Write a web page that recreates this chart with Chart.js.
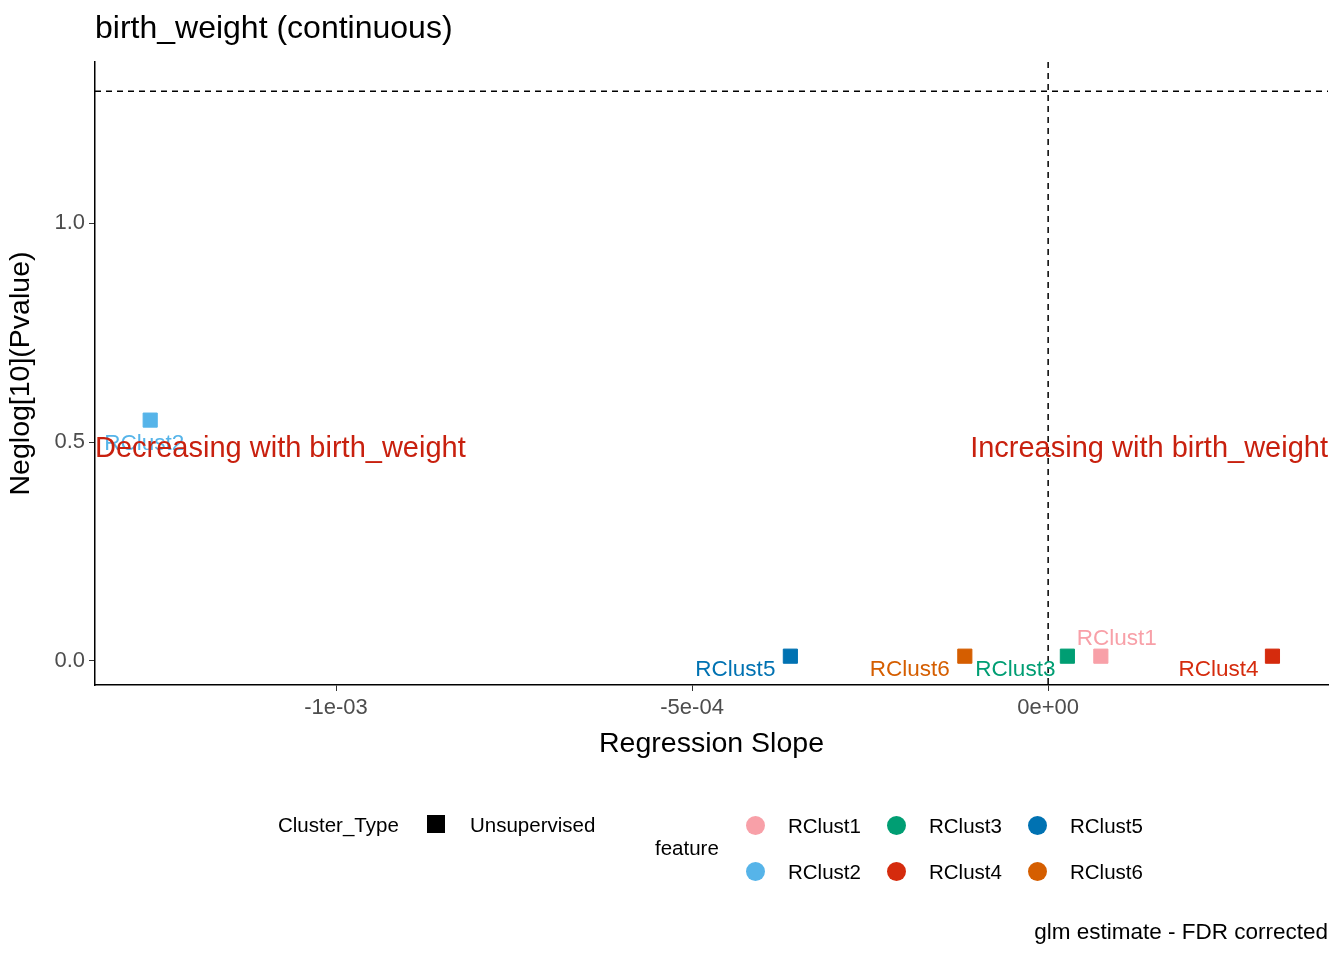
<!DOCTYPE html>
<html><head><meta charset="utf-8">
<script src="https://cdn.jsdelivr.net/npm/chart.js@4.4.1/dist/chart.umd.min.js"></script>
<style>
body{margin:0;background:#fff;font-family:Arial,"Liberation Sans",sans-serif;}
#wrap{position:relative;width:1344px;height:960px;}
.t{position:absolute;white-space:nowrap;color:#000;}
.sq{position:absolute;width:18px;height:18px;background:#000;}
.dot{position:absolute;width:19px;height:19px;border-radius:50%;}
</style></head><body>
<div id="wrap">
<canvas id="c" width="1344" height="960"></canvas>
<div class="t" style="left:95px;top:9px;font-size:32px;">birth_weight (continuous)</div>
<div class="t" style="left:278px;top:813px;font-size:20.5px;">Cluster_Type</div>
<div class="sq" style="left:427px;top:815px;"></div>
<div class="t" style="left:470px;top:813px;font-size:20.5px;">Unsupervised</div>
<div class="t" style="left:655px;top:836px;font-size:20.5px;">feature</div>
<div id="leg"></div>
<div class="t" style="right:16px;top:919px;font-size:22.5px;">glm estimate - FDR corrected</div>
</div>
<script>
// ---- Data ----
const features = ['RClust1', 'RClust2', 'RClust3', 'RClust4', 'RClust5', 'RClust6'];
const slopes   = [7.4e-5, -1.261e-3, 2.7e-5, 3.15e-4, -3.62e-4, -1.17e-4];
const neglogP  = [0.011, 0.550, 0.011, 0.011, 0.011, 0.011];
const colors   = ['#F8A0A8', '#56B4E9', '#009E73', '#D52B0D', '#0072B2', '#D55E00'];
const xTicks   = [-1e-3, -5e-4, 0];
const xTickLabels = ['-1e-03', '-5e-04', '0e+00'];
const yTicks   = [0, 0.5, 1.0];
const sigLine  = 1.30103;

// label offsets in px from point (text anchor = left/baseline)
const labelOffsets = [[-24, -11], [-46, 30], [-92, 20], [-94, 20], [-95, 20], [-95, 20]];

// ---- Legend (HTML) ----
const leg = document.getElementById('leg');
const legPos = [[746, 816], [746, 862], [887, 816], [887, 862], [1028, 816], [1028, 862]];
features.forEach(function (f, i) {
  leg.innerHTML += '<div class="dot" style="left:' + legPos[i][0] + 'px;top:' + legPos[i][1] + 'px;background:' + colors[i] + '"></div>' +
    '<div class="t" style="left:' + (legPos[i][0] + 42) + 'px;top:' + (legPos[i][1] - 2) + 'px;font-size:20.5px;">' + f + '</div>';
});

// ---- Overlay plugin: dashed lines, point labels, annotations ----
const overlay = {
  id: 'overlay',
  afterDatasetsDraw: function (chart) {
    const c = chart.ctx, xs = chart.scales.x, ys = chart.scales.y, a = chart.chartArea;
    c.save();
    c.strokeStyle = '#000'; c.lineWidth = 1.5; c.setLineDash([6, 5]);
    const x0 = xs.getPixelForValue(0), y0 = ys.getPixelForValue(sigLine);
    c.beginPath(); c.moveTo(x0, a.top); c.lineTo(x0, a.bottom); c.stroke();
    c.beginPath(); c.moveTo(a.left, y0); c.lineTo(a.right, y0); c.stroke();
    c.setLineDash([]);
    c.font = '22.5px Arial, "Liberation Sans"'; c.textBaseline = 'alphabetic';
    features.forEach(function (f, i) {
      const px = xs.getPixelForValue(slopes[i]), py = ys.getPixelForValue(neglogP[i]);
      c.fillStyle = colors[i];
      c.fillText(f, px + labelOffsets[i][0], py + labelOffsets[i][1]);
    });
    c.font = '29px Arial, "Liberation Sans"'; c.fillStyle = '#C8200E';
    const ya = ys.getPixelForValue(0.5) + 15;
    c.textAlign = 'left'; c.fillText('Decreasing with birth_weight', a.left, ya);
    c.textAlign = 'right'; c.fillText('Increasing with birth_weight', a.right, ya);
    c.restore();
  }
};

new Chart(document.getElementById('c'), {
  type: 'scatter',
  data: {
    datasets: features.map(function (f, i) {
      return {
        label: f,
        data: [{ x: slopes[i], y: neglogP[i] }],
        backgroundColor: colors[i], borderColor: colors[i],
        pointStyle: 'rect', pointRadius: 10, pointHoverRadius: 10
      };
    })
  },
  options: {
    responsive: false, animation: false,
    layout: { padding: { left: 0, right: 16, top: 62, bottom: 195 } },
    plugins: { legend: { display: false }, tooltip: { enabled: false } },
    scales: {
      x: {
        type: 'linear', min: -1.3385e-3, max: 3.93e-4,
        afterBuildTicks: function (s) { s.ticks = xTicks.map(function (v) { return { value: v }; }); },
        afterFit: function (s) { s.height = 80; },
        ticks: { color: '#4d4d4d', font: { size: 22 }, padding: 4,
          callback: function (v) { const k = xTicks.indexOf(v); return k >= 0 ? xTickLabels[k] : ''; } },
        grid: { drawOnChartArea: false, tickLength: 6, color: '#333' },
        border: { color: '#000', width: 1.5 },
        title: { display: true, text: 'Regression Slope', color: '#000', font: { size: 28.5 }, padding: { top: 2 } }
      },
      y: {
        type: 'linear', min: -0.0548, max: 1.3676,
        afterBuildTicks: function (s) { s.ticks = yTicks.map(function (v) { return { value: v }; }); },
        afterFit: function (s) { s.width = 95; },
        ticks: { color: '#4d4d4d', font: { size: 22 }, padding: 4,
          callback: function (v) { return v.toFixed(1); } },
        grid: { drawOnChartArea: false, tickLength: 6, color: '#333' },
        border: { color: '#000', width: 1.5 },
        title: { display: true, text: 'Neglog[10](Pvalue)', color: '#000', font: { size: 28.5 }, padding: { bottom: 2 } }
      }
    }
  },
  plugins: [overlay]
});
</script>
</body></html>
